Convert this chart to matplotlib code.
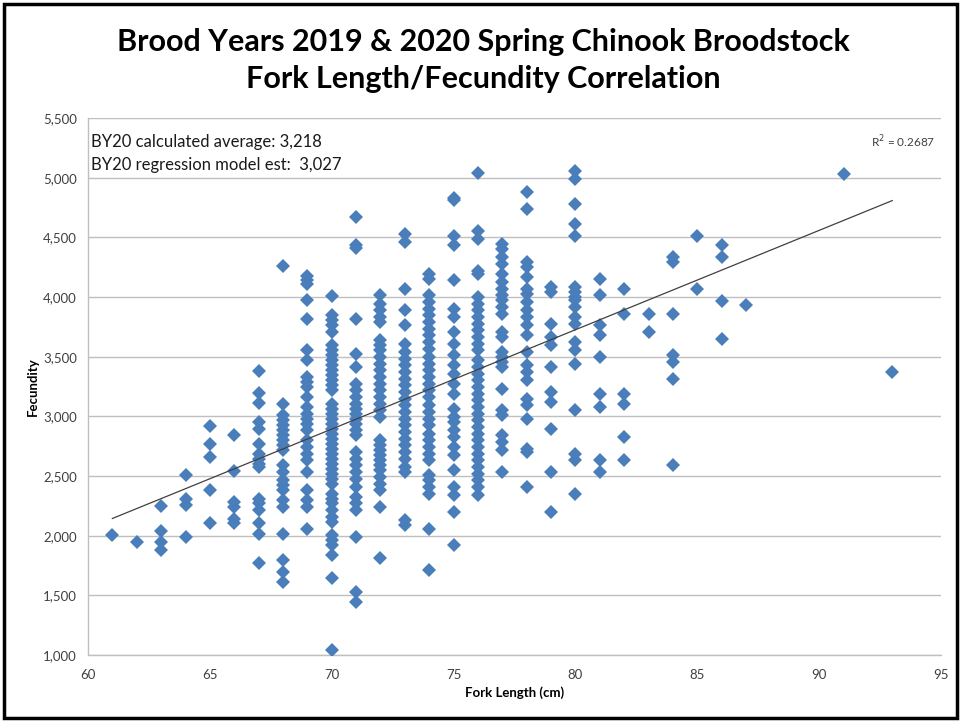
import matplotlib
matplotlib.use("Agg")
import matplotlib.pyplot as plt
from matplotlib.patches import Rectangle
from matplotlib.ticker import FuncFormatter, MultipleLocator

# fork length (cm) and the fecundity values read for each length
FORK_LENGTHS = [61, 62, 63, 64, 65, 66, 67, 68, 69, 70, 71, 72, 73, 74, 75, 76,
                77, 78, 79, 80, 81, 82, 83, 84, 85, 86, 87, 91, 93]

FECUNDITY = [
    [2010],
    [1950],
    [2250, 2040, 1950, 1880],
    [2510, 2310, 2260, 1990],
    [2920, 2770, 2660, 2380, 2110],
    [2840, 2540, 2280, 2240, 2140, 2110],
    [3380, 3196, 3112, 2953, 2897, 2766, 2688, 2646, 2604, 2576, 2311, 2270,
     2213, 2107, 2012, 1767],
    [4260, 3107, 3009, 2967, 2925, 2883, 2841, 2800, 2758, 2716, 2590, 2534,
     2465, 2423, 2381, 2297, 2241, 2018, 1795, 1697, 1614],
    [4180, 4139, 4111, 3971, 3818, 3553, 3469, 3330, 3288, 3246, 3162, 3079,
     3023, 2981, 2939, 2883, 2800, 2744, 2688, 2632, 2534, 2381, 2297, 2241,
     2060],
    [4010, 3846, 3804, 3762, 3706, 3595, 3553, 3511, 3469, 3427, 3385, 3344,
     3302, 3260, 3218, 3107, 3065, 3023, 2981, 2939, 2897, 2855, 2814, 2772,
     2730, 2688, 2646, 2604, 2562, 2520, 2479, 2437, 2353, 2311, 2270, 2213,
     2157, 2116, 2004, 1963, 1921, 1837, 1642, 1040],
    [4670, 4440, 4410, 3818, 3525, 3413, 3274, 3218, 3162, 3107, 3065, 3023,
     2981, 2939, 2883, 2841, 2702, 2646, 2590, 2534, 2479, 2409, 2325, 2270,
     2213, 1990, 1530, 1446],
    [4013, 3943, 3888, 3832, 3790, 3636, 3595, 3553, 3497, 3441, 3385, 3330,
     3274, 3218, 3162, 3107, 3051, 2995, 2800, 2758, 2716, 2674, 2632, 2590,
     2548, 2493, 2437, 2381, 2241, 1809],
    [4530, 4460, 4069, 3888, 3762, 3609, 3539, 3483, 3427, 3372, 3316, 3260,
     3204, 3148, 3093, 3037, 2981, 2925, 2869, 2814, 2758, 2702, 2646, 2576,
     2534, 2130, 2088],
    [4194, 4153, 4013, 3957, 3902, 3846, 3790, 3734, 3678, 3623, 3567, 3497,
     3441, 3385, 3330, 3274, 3218, 3162, 3093, 3037, 2981, 2925, 2855, 2800,
     2744, 2688, 2632, 2507, 2465, 2409, 2353, 2060, 1711],
    [4830, 4810, 4515, 4432, 4139, 3902, 3832, 3706, 3609, 3511, 3427, 3358,
     3274, 3190, 3065, 2995, 2953, 2883, 2828, 2744, 2674, 2548, 2409, 2339,
     2200, 1921],
    [5040, 4557, 4487, 4222, 4194, 3999, 3943, 3888, 3832, 3776, 3720, 3665,
     3609, 3553, 3469, 3413, 3358, 3302, 3246, 3190, 3134, 3079, 3023, 2967,
     2911, 2855, 2800, 2744, 2688, 2632, 2576, 2520, 2465, 2409, 2339],
    [4445, 4403, 4334, 4278, 4194, 4125, 4069, 4013, 3971, 3916, 3860, 3706,
     3665, 3539, 3497, 3455, 3413, 3232, 3051, 3009, 2841, 2786, 2716, 2534],
    [4878, 4738, 4292, 4250, 4166, 4069, 4027, 3957, 3888, 3832, 3762, 3678,
     3539, 3427, 3372, 3302, 3148, 3093, 2981, 2730, 2702, 2409],
    [4083, 4041, 3776, 3665, 3595, 3413, 3204, 3121, 2897, 2534, 2200],
    [5055, 4990, 4780, 4613, 4515, 4083, 4041, 3999, 3971, 3916, 3832, 3776,
     3623, 3553, 3441, 3051, 2688, 2632, 2353],
    [4153, 4013, 3762, 3678, 3497, 3190, 3079, 2632, 2534],
    [4069, 3860, 3190, 3107, 2828, 2632],
    [3860, 3706],
    [4334, 4292, 3860, 3511, 3455, 3310, 2590],
    [4515, 4069],
    [4439, 4334, 3965, 3651],
    [3930],
    [5030],
    [3372],
]

# linear trendline (fecundity = slope * length + intercept)
TREND_SLOPE = 83.25
TREND_INTERCEPT = -2934.0
TREND_RANGE = [61, 93]
R_SQUARED = 0.2687

TITLE = "Brood Years 2019 & 2020 Spring Chinook Broodstock\nFork Length/Fecundity Correlation"
NOTE_LINES = ["BY20 calculated average: 3,218", "BY20 regression model est:  3,027"]

plt.rcParams["font.family"] = ["Lato", "DejaVu Sans"]

fig = plt.figure(figsize=(9.61, 7.21), dpi=100)
ax = fig.add_axes([0.0916, 0.0915, 0.8876, 0.7448])

xs, ys = [], []
for length, values in zip(FORK_LENGTHS, FECUNDITY):
    xs.extend([length] * len(values))
    ys.extend(values)

ax.plot(xs, ys, linestyle="None", marker="D", markersize=7.5,
        color="#4a7ebb", markeredgewidth=0, zorder=3)

trend_y = [TREND_SLOPE * x + TREND_INTERCEPT for x in TREND_RANGE]
ax.plot(TREND_RANGE, trend_y, color="#404040", linewidth=0.9, zorder=4)

ax.set_xlim(60, 95)
ax.set_ylim(1000, 5500)
ax.xaxis.set_major_locator(MultipleLocator(5))
ax.yaxis.set_major_locator(MultipleLocator(500))
ax.yaxis.set_major_formatter(FuncFormatter(lambda v, _: f"{int(v):,}"))
ax.tick_params(length=0, labelsize=9.5, colors="#404040", pad=8)
ax.tick_params(axis="x", pad=10)
ax.grid(True, axis="y", color="#bfbfbf", linewidth=1.0)
ax.set_axisbelow(True)
for side in ["top", "right"]:
    ax.spines[side].set_visible(False)
for side in ["left", "bottom"]:
    ax.spines[side].set_color("#bfbfbf")
    ax.spines[side].set_linewidth(1.0)

ax.set_xlabel("Fork Length (cm)", fontsize=9.5, fontweight="bold", labelpad=4)
ax.set_ylabel("Fecundity", fontsize=9.5, fontweight="bold", labelpad=3)

ax.text(0.004, 0.955, NOTE_LINES[0], transform=ax.transAxes, fontsize=12,
        color="#1a1a1a", va="center", ha="left")
ax.text(0.004, 0.912, NOTE_LINES[1], transform=ax.transAxes, fontsize=12,
        color="#1a1a1a", va="center", ha="left")
ax.text(0.993, 0.955, f"R$^2$ = {R_SQUARED}", transform=ax.transAxes,
        fontsize=8.5, color="#404040", va="center", ha="right")

fig.text(0.503, 0.916, TITLE, ha="center", va="center", fontsize=22,
         fontweight="bold", linespacing=1.42)

fig.patches.append(Rectangle((0.004, 0.004), 0.992, 0.99, transform=fig.transFigure,
                             fill=False, edgecolor="black", linewidth=2.5))

fig.savefig("out.png", dpi=100)
